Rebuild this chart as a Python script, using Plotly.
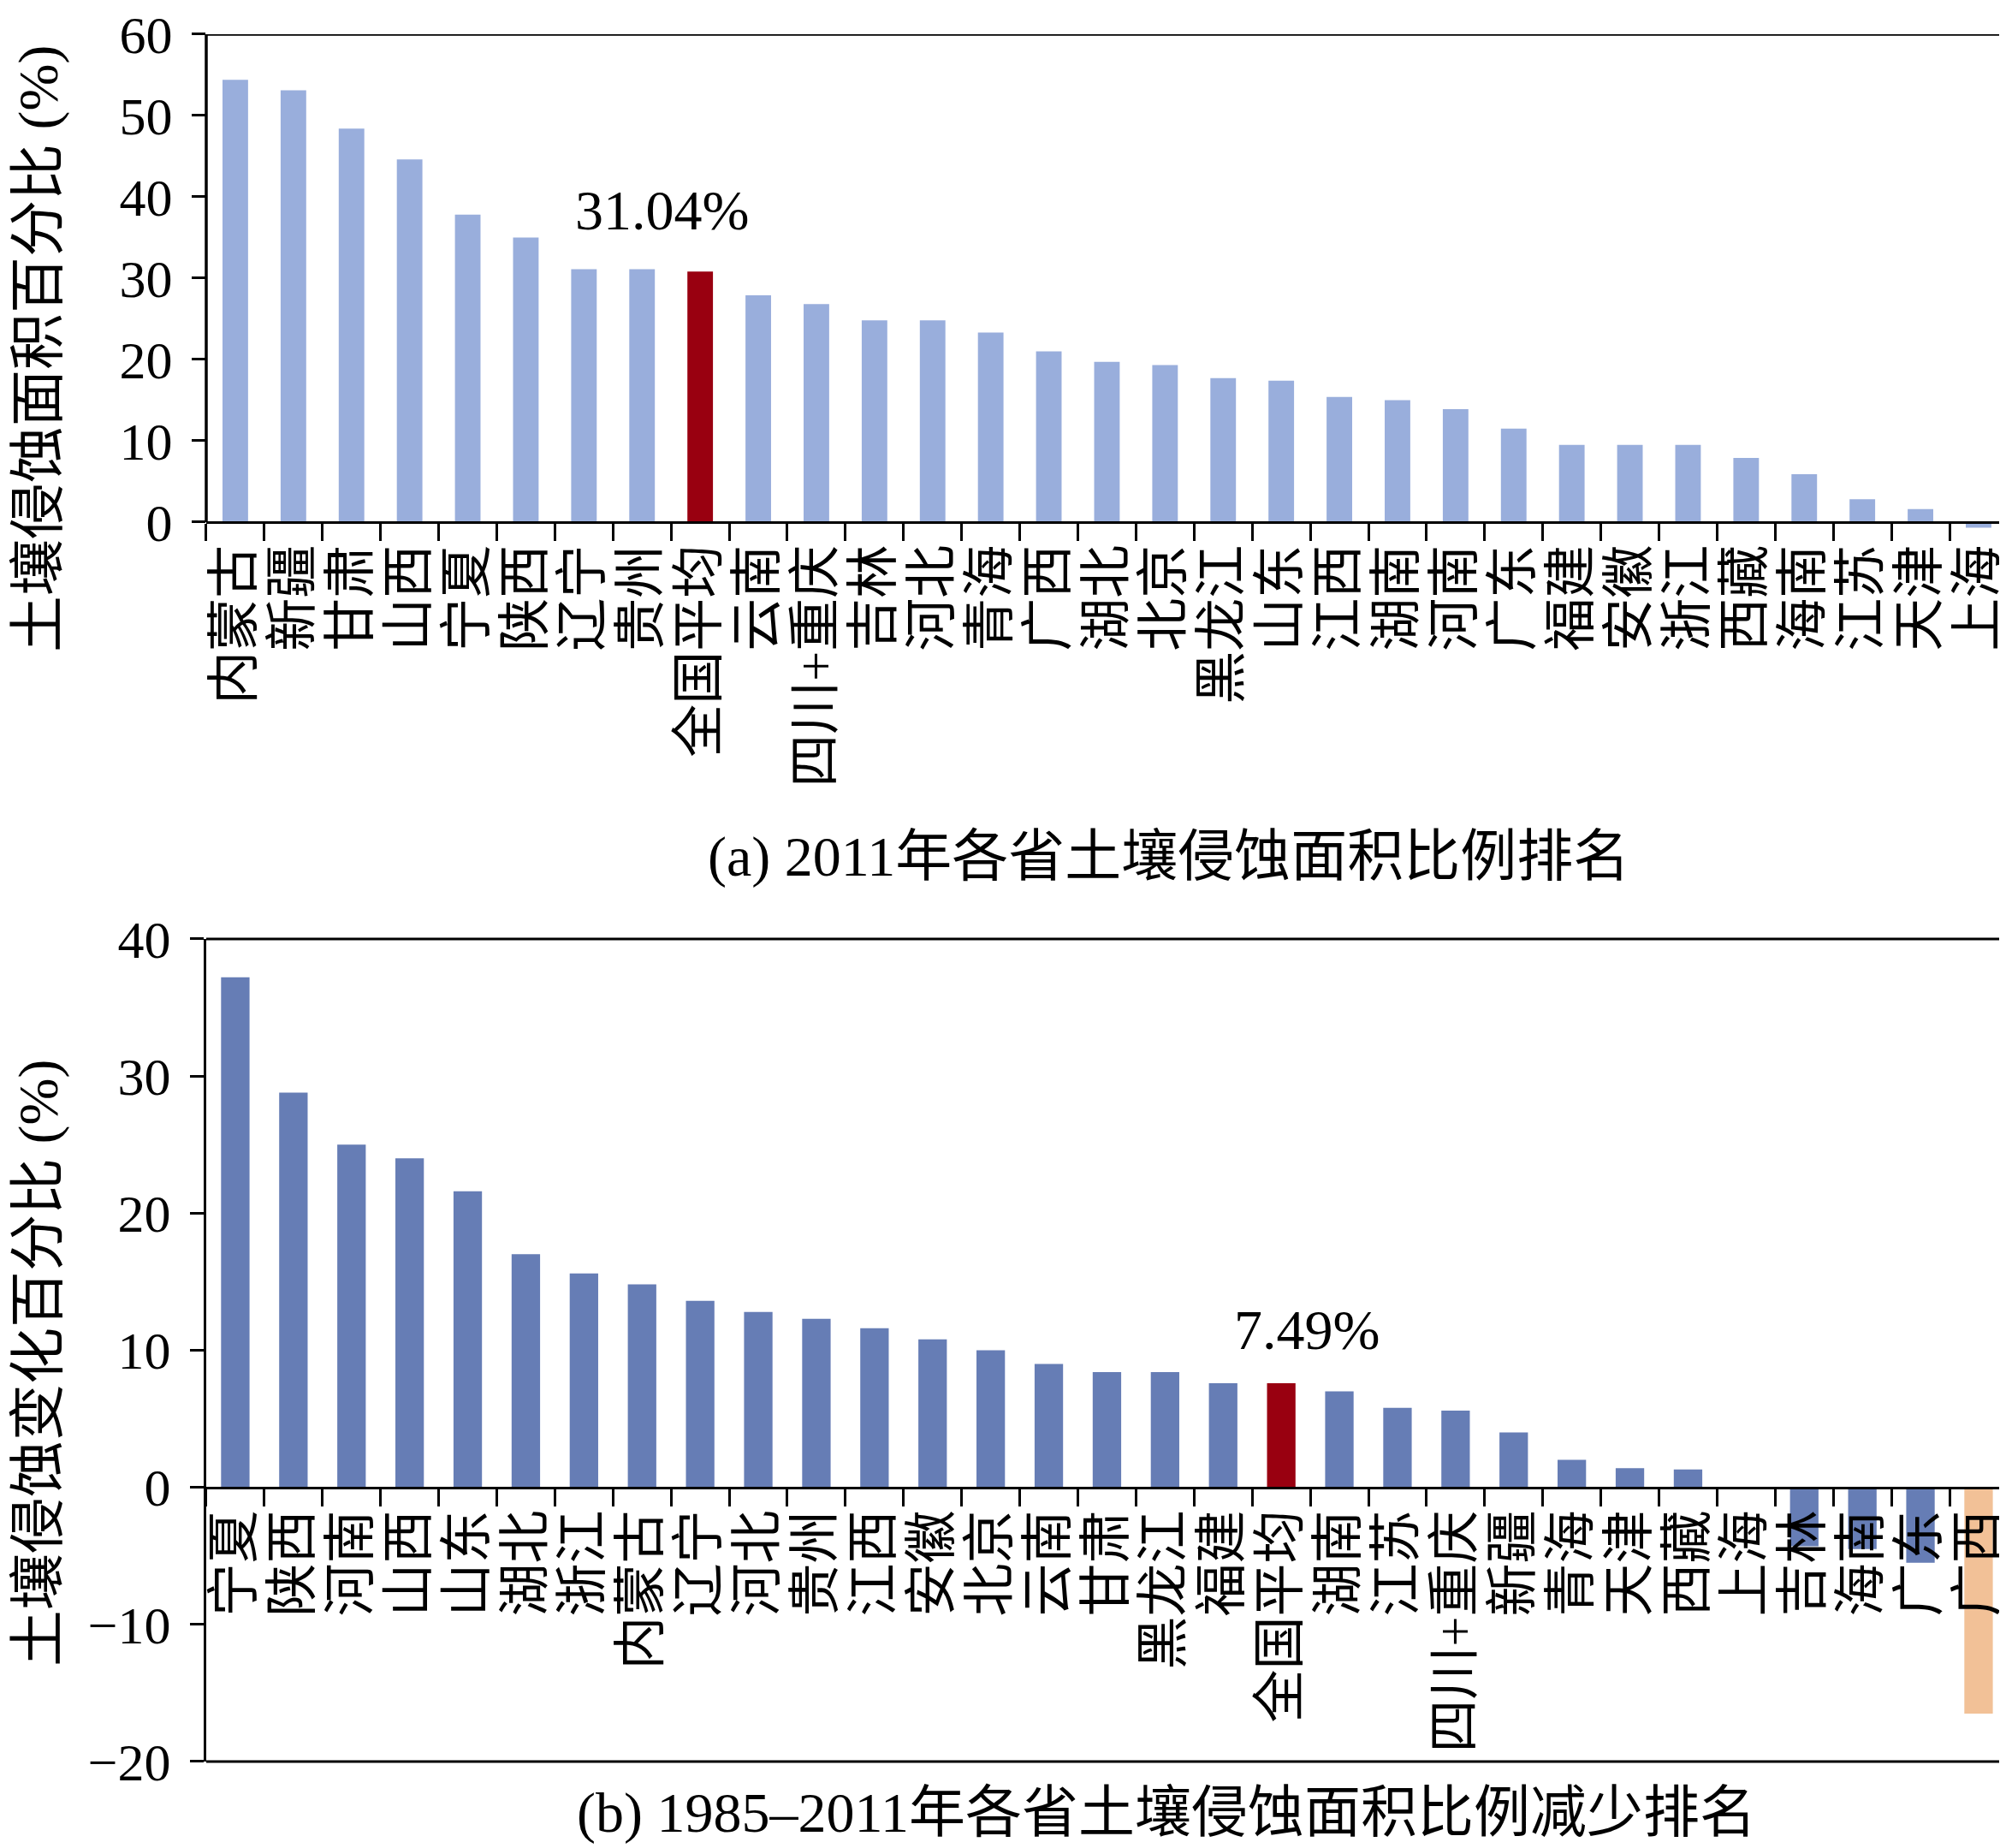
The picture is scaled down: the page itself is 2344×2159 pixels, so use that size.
import plotly.graph_objs as go

# (a) 2011 erosion area share by province, ranked
prov_a = ['内蒙古', '新疆', '甘肃', '山西', '宁夏', '陕西', '辽宁', '贵州', '全国平均', '云南', '四川+重庆',
          '吉林', '河北', '青海', '广西', '湖北', '北京', '黑龙江', '山东', '江西', '湖南', '河南', '广东',
          '福建', '安徽', '浙江', '西藏', '海南', '江苏', '天津', '上海']
val_a = [54.4, 53.1, 48.4, 44.6, 37.8, 35.0, 31.1, 31.1, 30.8, 27.9, 26.8,
         24.8, 24.8, 23.3, 21.0, 19.7, 19.3, 17.7, 17.4, 15.4, 15.0, 13.9, 11.5,
         9.5, 9.5, 9.5, 7.9, 5.9, 2.8, 1.6, -0.7]

# (b) 1985-2011 change of erosion area share, ranked
prov_b = ['宁夏', '陕西', '河南', '山西', '山东', '湖北', '浙江', '内蒙古', '辽宁', '河北', '贵州', '江西',
          '安徽', '北京', '云南', '甘肃', '黑龙江', '福建', '全国平均', '湖南', '江苏', '四川+重庆', '新疆',
          '青海', '天津', '西藏', '上海', '吉林', '海南', '广东', '广西']
val_b = [37.2, 28.8, 25.0, 24.0, 21.6, 17.0, 15.6, 14.8, 13.6, 12.8, 12.3, 11.6,
         10.8, 10.0, 9.0, 8.4, 8.4, 7.6, 7.6, 7.0, 5.8, 5.6, 4.0,
         2.0, 1.4, 1.3, 0.0, -4.3, -4.5, -5.5, -16.5]

avg_label_a = '31.04%'
avg_label_b = '7.49%'

LIGHT = '#99AEDC'
BLUE = '#667DB5'
RED = '#990010'
PEACH = '#F2C197'

FONT = 'Liberation Serif, Noto Sans CJK SC, serif'
W, H = 2344, 2159

col_a = [RED if p == '全国平均' else LIGHT for p in prov_a]
col_b = [RED if p == '全国平均' else (PEACH if p == '广西' else BLUE) for p in prov_b]

xdom = [0.0994, 0.9974]
ydom_a, yr_a = [0.7159, 0.9852], [-1.2, 60]
ydom_b, yr_b = [0.0505, 0.4956], [-20, 40]


def zero_pos(dom, rng):
    # paper position of y = 0 so the category axis crosses there
    return dom[0] + (0 - rng[0]) / (rng[1] - rng[0]) * (dom[1] - dom[0])


fig = go.Figure()
fig.add_trace(go.Bar(x=prov_a, y=val_a, width=0.44, marker=dict(color=col_a, line=dict(width=0)),
                     xaxis='x', yaxis='y', showlegend=False))
fig.add_trace(go.Bar(x=prov_b, y=val_b, width=0.49, marker=dict(color=col_b, line=dict(width=0)),
                     xaxis='x2', yaxis='y2', showlegend=False))

xcommon = dict(domain=xdom, anchor='free', showline=True, linecolor='black', linewidth=3,
               ticks='outside', tickson='boundaries', ticklen=20, tickwidth=3, tickcolor='black',
               tickangle=-90, tickfont=dict(family=FONT, size=62, color='black'),
               ticklabeloverflow='allow', tickmode='array',
               showgrid=False, zeroline=False, automargin=False, fixedrange=True)
ycommon = dict(ticks='outside', ticklen=16, tickwidth=3, tickcolor='black', ticklabelstandoff=10,
               tickfont=dict(family=FONT, size=62, color='black'), ticklabeloverflow='allow',
               showgrid=False, zeroline=False, automargin=False)

fig.update_layout(
    width=W, height=H,
    margin=dict(l=0, r=0, t=0, b=0),
    plot_bgcolor='white', paper_bgcolor='white',
    xaxis=dict(xcommon, position=zero_pos(ydom_a, yr_a), tickvals=prov_a, ticktext=prov_a),
    yaxis=dict(ycommon, domain=ydom_a, range=yr_a, tickvals=[0, 10, 20, 30, 40, 50, 60],
               anchor='x', showline=False),
    xaxis2=dict(xcommon, position=zero_pos(ydom_b, yr_b), tickvals=prov_b, ticktext=prov_b),
    yaxis2=dict(ycommon, domain=ydom_b, range=yr_b, tickvals=[-20, -10, 0, 10, 20, 30, 40],
                ticktext=['\u221220', '\u221210', '0', '10', '20', '30', '40'],
                anchor='x2', showline=True, mirror=True, linecolor='black', linewidth=3),
)

# frame of panel (a): left, top, right edges down to the zero line
line = dict(color='black', width=3.5)
fig.add_shape(type='line', xref='x domain', yref='y', x0=0, x1=0, y0=0, y1=60, line=line)
fig.add_shape(type='line', xref='x domain', yref='y', x0=0, x1=1, y0=60, y1=60, line=line)
fig.add_shape(type='line', xref='x domain', yref='y', x0=1, x1=1, y0=0, y1=60, line=line)
# frame of panel (b): top and bottom edges
line_b = dict(color='black', width=3)
fig.add_shape(type='line', xref='x2 domain', yref='y2 domain', x0=0, x1=1, y0=1, y1=1, line=line_b)
fig.add_shape(type='line', xref='x2 domain', yref='y2 domain', x0=0, x1=1, y0=0, y1=0, line=line_b)

afont = dict(family=FONT, size=66, color='black')
fig.add_annotation(text=avg_label_a, x='全国平均', y=val_a[prov_a.index('全国平均')], xref='x', yref='y',
                   showarrow=False, xanchor='center', yanchor='middle', xshift=-45, yshift=72, font=afont)
fig.add_annotation(text=avg_label_b, x='全国平均', y=val_b[prov_b.index('全国平均')], xref='x2', yref='y2',
                   showarrow=False, xanchor='center', yanchor='middle', xshift=30, yshift=62, font=afont)


def paper_note(text, px, py, angle=0):
    fig.add_annotation(text=text, x=px / W, y=1 - py / H, xref='paper', yref='paper',
                       xanchor='center', yanchor='middle', textangle=angle,
                       showarrow=False, font=afont)


paper_note('(a) 2011年各省土壤侵蚀面积比例排名', 1357, 993)
paper_note('(b) 1985–2011年各省土壤侵蚀面积比例减少排名', 1355, 2110)
paper_note('土壤侵蚀面积百分比 (%)', 37, 400, -90)
paper_note('土壤侵蚀变化百分比 (%)', 37, 1585, -90)

fig.write_html('out.html')
